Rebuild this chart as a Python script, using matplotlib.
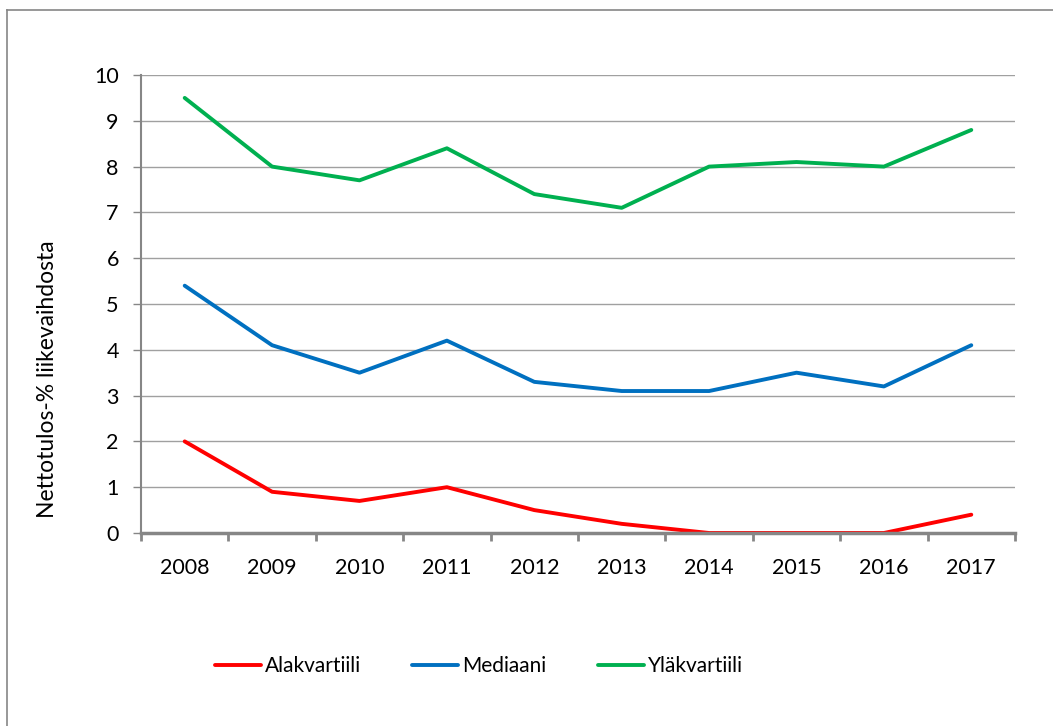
import matplotlib
matplotlib.use("Agg")
from matplotlib import pyplot as plt
from matplotlib.lines import Line2D

years = ["2008", "2009", "2010", "2011", "2012", "2013", "2014", "2015", "2016", "2017"]
alakvartiili = [2.0, 0.9, 0.7, 1.0, 0.5, 0.2, 0.0, 0.0, 0.0, 0.4]
mediaani = [5.4, 4.1, 3.5, 4.2, 3.3, 3.1, 3.1, 3.5, 3.2, 4.1]
ylakvartiili = [9.5, 8.0, 7.7, 8.4, 7.4, 7.1, 8.0, 8.1, 8.0, 8.8]

plt.rcParams['font.family'] = ['Lato', 'DejaVu Sans']

fig = plt.figure(figsize=(10.53, 7.26), dpi=100)
ax = fig.add_axes([141 / 1053, 1 - 533 / 726, (1015 - 141) / 1053, (533 - 75) / 726])

x = list(range(len(years)))
ax.plot(x, alakvartiili, color="#FF0000", lw=2.8, label="Alakvartiili", solid_capstyle="round")
ax.plot(x, mediaani, color="#0070C0", lw=2.8, label="Mediaani", solid_capstyle="round")
ax.plot(x, ylakvartiili, color="#00B050", lw=2.8, label="Yläkvartiili", solid_capstyle="round")

ax.set_xlim(-0.5, len(years) - 0.5)
ax.set_ylim(0, 10)
ax.set_yticks(range(0, 11))
ax.yaxis.grid(True, color="#A0A0A0", lw=1)
ax.set_axisbelow(True)

# category labels sit between tick marks
ax.set_xticks([i - 0.5 for i in range(len(years) + 1)])
ax.set_xticklabels([])
ax.set_xticks(x, minor=True)
ax.set_xticklabels(years, minor=True, fontsize=15.5)
ax.tick_params(axis="x", which="minor", length=0, pad=18)
ax.tick_params(axis="x", which="major", length=6, width=2, color="#868686", direction="out")
ax.tick_params(axis="y", length=6, width=1, color="#868686", labelsize=15.5, pad=10)

for s in ["top", "right"]:
    ax.spines[s].set_visible(False)
ax.spines["left"].set_color("#868686")
ax.spines["left"].set_linewidth(1.5)
ax.spines["bottom"].set_color("#868686")
ax.spines["bottom"].set_linewidth(2.5)

ax.set_ylabel("Nettotulos-% liikevaihdosta", fontsize=16.5)
ax.yaxis.set_label_coords((58 - 141) / 874, (533 - 379) / 458)

fig.legend(loc="center", bbox_to_anchor=(479 / 1053, 1 - 666 / 726), ncol=3, frameon=False,
           fontsize=15, handlelength=2.2, handletextpad=0.2, columnspacing=2.45)

# outer chart frame (top and left edges visible)
fig.add_artist(Line2D([7 / 1053, 7 / 1053], [0, 1 - 10 / 726], color="#868686", lw=1.2))
fig.add_artist(Line2D([7 / 1053, 1], [1 - 10 / 726, 1 - 10 / 726], color="#868686", lw=1.2))

fig.savefig("out.png", dpi=100)
